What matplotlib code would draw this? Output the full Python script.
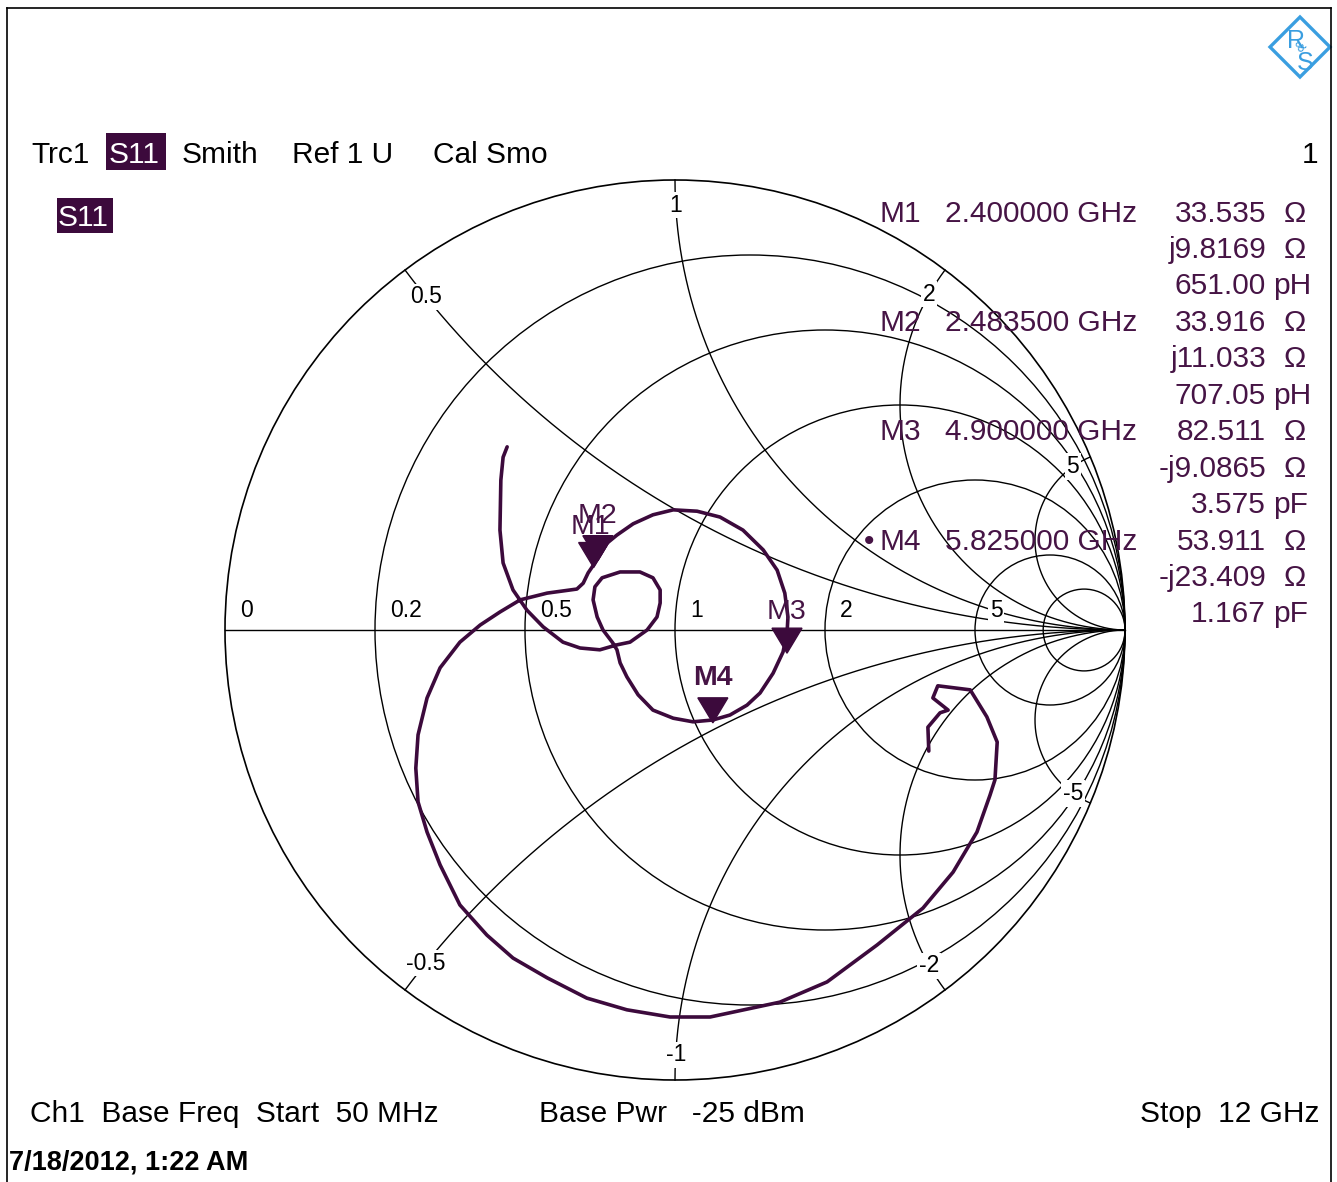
import numpy as np
import matplotlib
matplotlib.use("Agg")
import matplotlib.pyplot as plt
from matplotlib.patches import Circle, Polygon, Rectangle
from matplotlib.lines import Line2D

W, H = 1337, 1182
plt.rcParams['font.family'] = ['Liberation Sans', 'DejaVu Sans']

PURPLE = '#3c0a3c'
TXT = '#461445'

gamma_re = [0.564, 0.562, 0.589, 0.607, 0.573, 0.584, 0.656, 0.693, 0.716, 0.711,
            0.700, 0.671, 0.618, 0.551, 0.449, 0.338, 0.233, 0.078, -0.011, -0.107,
            -0.196, -0.284, -0.360, -0.418, -0.478, -0.522, -0.551, -0.571, -0.576, -0.571,
            -0.551, -0.522, -0.478, -0.433, -0.389, -0.344, -0.284, -0.218, -0.204, -0.193,
            -0.178, -0.151, -0.129, -0.093, -0.049, -0.004, 0.049, 0.100, 0.151, 0.196,
            0.227, 0.244, 0.251, 0.249, 0.240, 0.218, 0.189, 0.160, 0.122, 0.084,
            0.040, -0.004, -0.049, -0.082, -0.107, -0.122, -0.129, -0.138, -0.160, -0.173,
            -0.182, -0.178, -0.162, -0.122, -0.078, -0.049, -0.033, -0.033, -0.040, -0.062,
            -0.100, -0.129, -0.167, -0.211, -0.249, -0.293, -0.329, -0.360, -0.382, -0.389,
            -0.387, -0.382, -0.373]
gamma_im = [-0.269, -0.216, -0.184, -0.178, -0.151, -0.124, -0.133, -0.193, -0.249, -0.333,
            -0.367, -0.449, -0.538, -0.618, -0.700, -0.782, -0.827, -0.860, -0.860, -0.844,
            -0.818, -0.773, -0.729, -0.678, -0.611, -0.522, -0.449, -0.382, -0.307, -0.233,
            -0.151, -0.084, -0.027, 0.011, 0.040, 0.067, 0.082, 0.091, 0.104, 0.127,
            0.149, 0.193, 0.211, 0.236, 0.256, 0.267, 0.264, 0.251, 0.222, 0.178,
            0.133, 0.082, 0.029, -0.007, -0.049, -0.096, -0.140, -0.167, -0.189, -0.200,
            -0.204, -0.196, -0.178, -0.144, -0.104, -0.073, -0.044, -0.029, 0.000, 0.029,
            0.067, 0.096, 0.116, 0.129, 0.129, 0.116, 0.089, 0.060, 0.029, 0.000,
            -0.027, -0.033, -0.044, -0.040, -0.027, 0.007, 0.044, 0.089, 0.149, 0.222,
            0.333, 0.384, 0.407]

# markers
marker_names = ["M1", "M2", "M3", "M4"]
marker_freq = ["2.400000 GHz", "2.483500 GHz", "4.900000 GHz", "5.825000 GHz"]
marker_R = [33.535, 33.916, 82.511, 53.911]
marker_X = [9.8169, 11.033, -9.0865, -23.409]
marker_R_txt = ["33.535", "33.916", "82.511", "53.911"]
marker_X_txt = ["j9.8169", "j11.033", "-j9.0865", "-j23.409"]
marker_LC = [("651.00", "pH"), ("707.05", "pH"), ("3.575", "pF"), ("1.167", "pF")]
active_marker = "M4"
z0 = 50.0

# grid
r_grid = [0.2, 0.5, 1, 2, 5, 10]
x_grid = [0.5, 1, 2, 5]
r_axis_labels = [(0, "0"), (0.2, "0.2"), (0.5, "0.5"), (1, "1"), (2, "2"), (5, "5")]
x_arc_labels = [(0.5, "0.5"), (1, "1"), (2, "2"), (5, "5"),
                (-0.5, "-0.5"), (-1, "-1"), (-2, "-2"), (-5, "-5")]
# how far in from the rim each reactance label sits (|gamma|)
x_label_rim = {0.5: 0.925, 1: 0.944, 2: 0.936, 5: 0.956}

fig = plt.figure(figsize=(W / 100, H / 100), dpi=100)
ax = fig.add_axes([0, 0, 1, 1])
# chart centre at (675, 630) px, radius 450 px
ax.set_xlim(-675 / 450, (W - 675) / 450)
ax.set_ylim((630 - H) / 450, 630 / 450)
ax.axis('off')

grid_kw = dict(color='black', lw=1.0, zorder=1)
ax.add_patch(Circle((0, 0), 1, fill=False, ec='black', lw=1.2, zorder=1))
for r in r_grid:
    ax.add_patch(Circle((r / (1 + r), 0), 1 / (1 + r), fill=False, ec='black', lw=1.0, zorder=1))
ax.plot([-1, 1], [0, 0], **grid_kw)
rr = np.concatenate([[0], np.logspace(-3, 4, 1500)])
for x in x_grid:
    for s in (1, -1):
        z = rr + 1j * s * x
        g = (z - 1) / (z + 1)
        ax.plot(g.real, g.imag, **grid_kw)

lab_kw = dict(fontsize=16.5, color='black', zorder=2,
              bbox=dict(facecolor='white', edgecolor='none', pad=1.2))
for r, s in r_axis_labels:
    gx = (r - 1) / (r + 1)
    ax.text(gx + 0.033, 0.044, s, ha='left', va='center', **lab_kw)


def x_label_pos(x, g):
    a, b = 1 - g * g, 1 + g * g
    r = (b - np.sqrt(b * b - a * a * (1 + x * x))) / a
    z = r + 1j * x
    return (z - 1) / (z + 1)


for x, s in x_arc_labels:
    p = x_label_pos(x, x_label_rim[abs(x)])
    ax.text(p.real, p.imag, s, ha='center', va='center', **lab_kw)

# trace
ax.plot(gamma_re, gamma_im, color=PURPLE, lw=2.6, zorder=3,
        solid_joinstyle='round', solid_capstyle='round')

# marker triangles
tw, th = 15 / 450, 25 / 450
for name, R, X in zip(marker_names, marker_R, marker_X):
    z = (R + 1j * X) / z0
    g = (z - 1) / (z + 1)
    ax.add_patch(Polygon([(g.real, g.imag), (g.real - tw, g.imag + th), (g.real + tw, g.imag + th)],
                         closed=True, fc=PURPLE, ec=PURPLE, zorder=4))
    dy = 45 / 450 if name in ("M2", "M4") else 41 / 450
    dx = -3 / 450 if name == "M1" else 0
    ax.text(g.real + dx, g.imag + dy, name, ha='center', va='center', fontsize=20.5,
            color=TXT, zorder=5, fontweight='bold' if name == active_marker else 'normal')


def ftext(x, y, s, **kw):
    kw.setdefault('va', 'baseline')
    return fig.text(x / W, 1 - y / H, s, **kw)


FS = 21.5
# header
ftext(31, 163, "Trc1", fontsize=FS, color='black')
fig.add_artist(Rectangle((106 / W, 1 - 170 / H), 60 / W, 37 / H, transform=fig.transFigure,
                         fc=PURPLE, ec='none'))
ftext(109, 163, "S11", fontsize=FS, color='white')
ftext(182, 163, "Smith", fontsize=FS, color='black')
ftext(292, 163, "Ref 1 U", fontsize=FS, color='black')
ftext(433, 163, "Cal Smo", fontsize=FS, color='black')
ftext(1318, 163, "1", fontsize=FS, color='black', ha='right')
fig.add_artist(Rectangle((57 / W, 1 - 233 / H), 56 / W, 35 / H, transform=fig.transFigure,
                         fc=PURPLE, ec='none'))
ftext(58, 226, "S11", fontsize=FS, color='white')

# marker table
row0, dr = 221.5, 36.45
for k, name in enumerate(marker_names):
    y1 = row0 + 3 * k * dr
    if name == active_marker:
        ftext(864, y1, "\u2022", fontsize=FS, color=TXT)
    ftext(879, y1, name, fontsize=FS, color=TXT)
    ftext(1137, y1, marker_freq[k], fontsize=FS, color=TXT, ha='right')
    ftext(1266, y1, marker_R_txt[k], fontsize=FS, color=TXT, ha='right')
    ftext(1295, y1, "\u03a9", fontsize=FS, color=TXT, ha='center')
    ftext(1266, y1 + dr, marker_X_txt[k], fontsize=FS, color=TXT, ha='right')
    ftext(1295, y1 + dr, "\u03a9", fontsize=FS, color=TXT, ha='center')
    ftext(1266, y1 + 2 * dr, marker_LC[k][0], fontsize=FS, color=TXT, ha='right')
    ftext(1273, y1 + 2 * dr, marker_LC[k][1], fontsize=FS, color=TXT, ha='left')

# footer
ftext(30, 1122, "Ch1  Base Freq  Start  50 MHz", fontsize=FS, color='black')
ftext(539, 1122, "Base Pwr   -25 dBm", fontsize=FS, color='black')
ftext(1320, 1122, "Stop  12 GHz", fontsize=FS, color='black', ha='right')
ftext(9, 1169, "7/18/2012, 1:22 AM", fontsize=19.5, color='black', fontweight='bold')

# frame
for xs, ys in [((7, 1331), (8, 8)), ((7, 7), (8, H)), ((1331, 1331), (8, H))]:
    fig.add_artist(Line2D([v / W for v in xs], [1 - v / H for v in ys],
                          transform=fig.transFigure, color='black', lw=1.2))

# R&S logo
BLUE = '#3a9ee0'
cx, cy, hd = 1300, 47, 30
fig.add_artist(Polygon([((cx) / W, 1 - (cy - hd) / H), ((cx + hd) / W, 1 - cy / H),
                        (cx / W, 1 - (cy + hd) / H), ((cx - hd) / W, 1 - cy / H)],
                       closed=True, fill=False, ec=BLUE, lw=2.4, transform=fig.transFigure))
ftext(1296, 48, "R", fontsize=18, color=BLUE, ha='center')
ftext(1305, 70, "S", fontsize=18, color=BLUE, ha='center')
fig.text(1301 / W, 1 - 47 / H, "&", fontsize=10, color=BLUE, ha='center', va='center', rotation=45)

fig.savefig("out.png", dpi=100, facecolor='white')
